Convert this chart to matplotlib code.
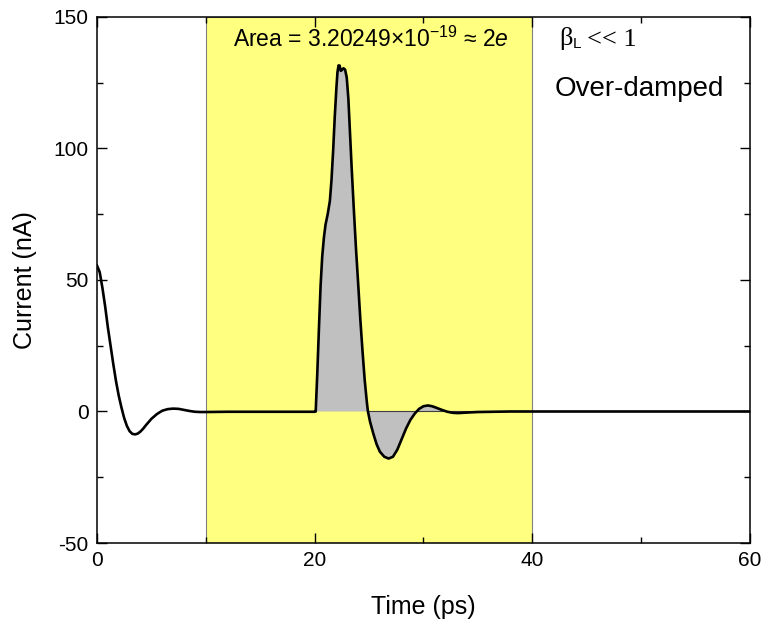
import numpy as np
import matplotlib
matplotlib.use('Agg')
import matplotlib.pyplot as plt
from matplotlib.ticker import MultipleLocator

# current trace
t = [0, 0.25, 0.5, 0.75, 1.0, 1.25, 1.5, 1.75, 2.0, 2.25, 2.5, 2.75, 3.0, 3.25, 3.5,
     3.75, 4.0, 4.25, 4.5, 4.75, 5.0, 5.5, 6.0, 6.5, 7.0, 7.5, 8.0, 8.5, 9.0, 9.5, 10,
     12, 15, 18, 20.0, 20.1, 20.25, 20.4, 20.55, 20.7, 20.85, 21.0, 21.2, 21.4, 21.55,
     21.7, 21.85, 22.0, 22.1, 22.2, 22.3, 22.4, 22.5, 22.65, 22.8, 22.95, 23.1, 23.25,
     23.4, 23.6, 23.8, 24.0, 24.2, 24.4, 24.6, 24.8, 24.9, 25.1, 25.4, 25.7, 26.0, 26.4,
     26.8, 27.2, 27.6, 28.0, 28.4, 28.8, 29.2, 29.6, 30.0, 30.4, 30.8, 31.2, 31.7, 32.2,
     32.7, 33.2, 34, 35, 36.5, 38, 40, 45, 50, 55, 60]
current = [55.5, 53, 47, 40, 32, 25, 18, 11.5, 6, 1.5, -2.5, -5.5, -7.5, -8.5, -8.7,
           -8.4, -7.6, -6.5, -5.2, -4.0, -2.8, -1.0, 0.3, 0.9, 1.1, 1.0, 0.6, 0.2, -0.1, -0.2, -0.2,
           -0.1, -0.1, -0.1, -0.1, 0, 15, 32, 48, 59, 66, 71, 75, 80, 88,
           99, 112, 123, 129, 131.6, 131.5, 129.5, 129.8, 130.5, 130, 127, 119, 106,
           93, 77, 62, 48.7, 35, 23, 12, 3.5, 0, -4, -8.5, -12.5, -15.3, -17.2,
           -17.9, -17.2, -14.5, -10.5, -6.5, -3.2, -0.8, 1.0, 2.0, 2.3, 2.0, 1.4, 0.6, -0.1,
           -0.5, -0.6, -0.4, -0.2, -0.1, 0, 0, 0, 0, 0, 0]

span = (10, 40)
fill_range = (20, 40)

t = np.array(t)
current = np.array(current)

plt.rcParams['font.family'] = ['Liberation Sans', 'DejaVu Sans']
plt.rcParams['axes.unicode_minus'] = False
plt.rcParams['mathtext.fontset'] = 'custom'
plt.rcParams['mathtext.rm'] = 'Liberation Sans'
plt.rcParams['mathtext.it'] = 'Liberation Sans:italic'

fig = plt.figure(figsize=(7.66, 6.22), dpi=100)
ax = fig.add_axes([0.1266, 0.127, 0.979 - 0.1266, 0.9727 - 0.127])

ax.axvspan(span[0], span[1], facecolor='#ffff80', edgecolor='#808080', linewidth=0.8, zorder=0)

m = (t >= fill_range[0]) & (t <= fill_range[1])
ax.fill_between(t[m], current[m], 0, facecolor='#c0c0c0', edgecolor='none', zorder=1)
ax.plot([25, 40], [0, 0], color='#404040', linewidth=0.8, zorder=1)

ax.plot(t, current, color='black', linewidth=1.9, zorder=3, solid_joinstyle='round')

ax.set_xlim(0, 60)
ax.set_ylim(-50, 150)
ax.xaxis.set_major_locator(MultipleLocator(20))
ax.xaxis.set_minor_locator(MultipleLocator(10))
ax.yaxis.set_major_locator(MultipleLocator(50))
ax.yaxis.set_minor_locator(MultipleLocator(25))
ax.tick_params(which='both', direction='in', top=True, right=True, width=1.0, labelsize=15)
ax.tick_params(which='major', length=7, pad=6)
ax.tick_params(which='minor', length=4)
for s in ax.spines.values():
    s.set_linewidth(1.1)

ax.set_xlabel('Time (ps)', fontsize=18, labelpad=18)
ax.set_ylabel('Current (nA)', fontsize=18, labelpad=12)

ax.text(25.2, 141.5, 'Area = 3.20249\u00d710$^{-19}$ \u2248 2$e$', fontsize=16.5,
        ha='center', va='center')
b = ax.text(42.5, 142, '\u03b2', fontsize=19, ha='left', va='center',
            family=['Liberation Serif'])
sub = ax.annotate('L', xy=(1, 0), xycoords=b, xytext=(0, -1), textcoords='offset points',
                  fontsize=11, ha='left', va='bottom')
ax.annotate('<< 1', xy=(1, 0), xycoords=sub, xytext=(4, 0), textcoords='offset points',
            fontsize=19, ha='left', va='bottom', family=['Liberation Serif'])
ax.text(42.1, 122.5, 'Over-damped', fontsize=20, ha='left', va='center')

fig.savefig('out.png', dpi=100)
